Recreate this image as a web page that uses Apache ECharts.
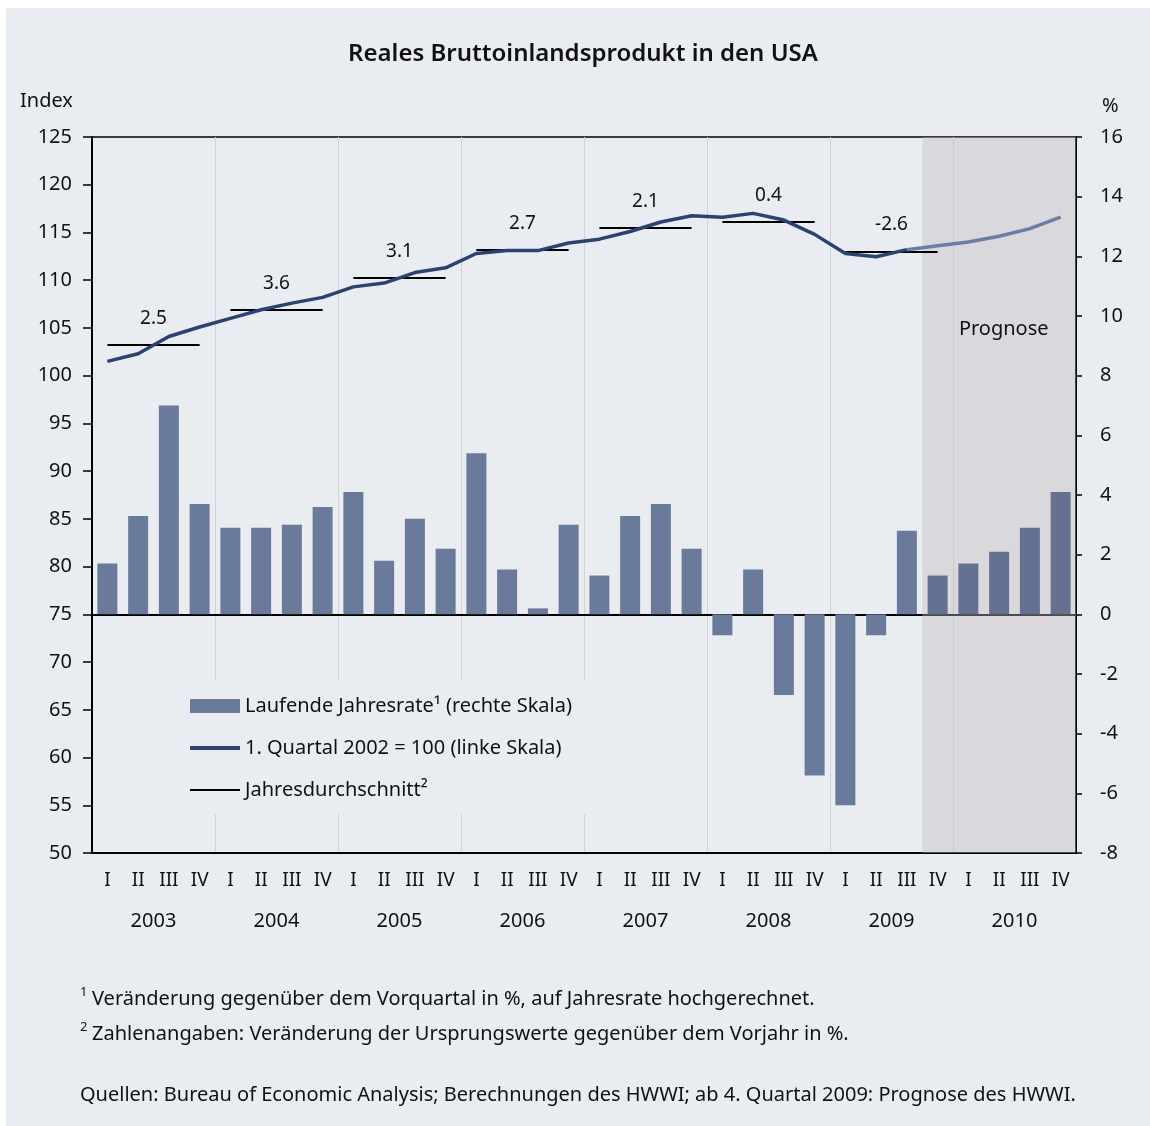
<!DOCTYPE html>
<html>
<head>
<meta charset="utf-8">
<script src="https://cdn.jsdelivr.net/npm/echarts@6/dist/echarts.min.js"></script>
<style>
  html, body { margin: 0; background: #fff; }
  #main { position: absolute; left: 6px; top: 8px; width: 1144px; height: 1118px; }
</style>
</head>
<body>
<div id="main"></div>
<script>
// Daten
var years = ['2003', '2004', '2005', '2006', '2007', '2008', '2009', '2010'];
var quarterNames = ['I', 'II', 'III', 'IV'];

// laufende Jahresrate in % (rechte Skala)
var rates = [
  1.7, 3.3, 7.0, 3.7,
  2.9, 2.9, 3.0, 3.6,
  4.1, 1.8, 3.2, 2.2,
  5.4, 1.5, 0.2, 3.0,
  1.3, 3.3, 3.7, 2.2,
  -0.7, 1.5, -2.7, -5.4,
  -6.4, -0.7, 2.8, 1.3,
  1.7, 2.1, 2.9, 4.1
];

// 1. Quartal 2002 = 100 (linke Skala)
var gdpIndex = [
  101.5, 102.3, 104.1, 105.1,
  106.0, 106.9, 107.6, 108.2,
  109.3, 109.7, 110.8, 111.3,
  112.8, 113.1, 113.1, 113.9,
  114.3, 115.1, 116.1, 116.75,
  116.6, 117.0, 116.3, 114.8,
  112.8, 112.45, 113.2, 113.6,
  114.0, 114.6, 115.4, 116.6
];

// Jahresdurchschnitt (Index) und Veränderung gegenüber Vorjahr
var yearAverage = [103.2, 106.9, 110.25, 113.15, 115.5, 116.1, 113.0, 115.2];
var yearGrowth = ['2.5', '3.6', '3.1', '2.7', '2.1', '0.4', '-2.6', '1.9'];

var forecastStart = 27; // ab 4. Quartal 2009

var quarters = [];
years.forEach(function (y) {
  quarterNames.forEach(function (q) { quarters.push(y + ' ' + q); });
});

var FONT = 'Noto Sans';
var TXT = '#111';
var LINE_DARK = '#2c4272';
var LINE_LIGHT = '#6a7ea5';

var barData = rates.map(function (v, i) {
  return i >= forecastStart ? { value: v, itemStyle: { color: '#647190' } } : v;
});
var actualLine = gdpIndex.map(function (v, i) { return i < forecastStart ? v : '-'; });
var forecastLine = gdpIndex.map(function (v, i) { return i >= forecastStart - 1 ? v : '-'; });

var avgLines = years.map(function (y, i) {
  var start = { coord: [i * 4, yearAverage[i]], name: yearGrowth[i] };
  if (i === years.length - 1) start.lineStyle = { opacity: 0 };
  return [start, { coord: [i * 4 + 3, yearAverage[i]] }];
});

var myChart = echarts.init(document.getElementById('main'));

var option = {
  backgroundColor: '#e9ecf1',
  animation: false,
  textStyle: { fontFamily: FONT, color: TXT },
  title: {
    text: 'Reales Bruttoinlandsprodukt in den USA',
    left: 577,
    top: 34,
    textAlign: 'center',
    padding: 0,
    textStyle: { fontFamily: FONT, fontSize: 24, fontWeight: 600, color: TXT }
  },
  legend: {
    orient: 'vertical',
    left: 156,
    top: 672,
    padding: [16, 16, 14, 26],
    backgroundColor: '#e9ecf1',
    itemWidth: 50,
    itemHeight: 14,
    itemGap: 22,
    z: 10,
    textStyle: { fontFamily: FONT, fontSize: 20, color: TXT, lineHeight: 20 },
    data: [
      { name: 'Laufende Jahresrate¹ (rechte Skala)', icon: 'rect' },
      { name: '1. Quartal 2002 = 100 (linke Skala)', itemStyle: { opacity: 0 }, lineStyle: { width: 4, color: LINE_DARK } },
      { name: 'Jahresdurchschnitt²', itemStyle: { opacity: 0 }, lineStyle: { width: 2, color: '#000' } }
    ]
  },
  grid: {
    left: 86, right: 74, top: 129, bottom: 273,
    show: true,
    borderColor: '#000',
    borderWidth: 1.5,
    backgroundColor: 'transparent',
    outerBoundsMode: 'none'
  },
  xAxis: [
    {
      type: 'category',
      data: quarters,
      position: 'bottom',
      axisLine: { onZero: false, lineStyle: { color: '#000', width: 2 } },
      axisTick: { interval: 0, length: 41, lineStyle: { color: '#000', width: 2 } },
      axisLabel: {
        interval: 0, margin: 18, fontSize: 19, color: TXT, fontFamily: FONT,
        formatter: function (v) { return v.split(' ')[1]; }
      },
      splitLine: { show: false }
    },
    {
      type: 'category',
      data: years,
      position: 'bottom',
      axisLine: { show: false, onZero: false },
      axisTick: { interval: 0, length: 82, lineStyle: { color: '#000', width: 2 } },
      axisLabel: { interval: 0, margin: 58, fontSize: 20, color: TXT, fontFamily: FONT },
      splitLine: { show: false }
    },
    {
      type: 'category',
      data: years,
      position: 'bottom',
      axisLine: { onZero: true, onZeroAxisIndex: 1, lineStyle: { color: '#000', width: 2 } },
      axisTick: { interval: 0, length: 5, lineStyle: { color: '#000', width: 2 } },
      axisLabel: { show: false },
      splitLine: { show: true, interval: 0, lineStyle: { color: '#cfd3d9', width: 1 } }
    },
    { type: 'value', min: 0, max: quarters.length, show: false }
  ],
  yAxis: [
    {
      type: 'value',
      position: 'left',
      min: 50, max: 125, interval: 5,
      axisLine: { show: true, onZero: false, lineStyle: { color: '#000', width: 2 } },
      axisTick: { show: true, length: 9, lineStyle: { color: '#000', width: 1.5 } },
      axisLabel: { margin: 20, fontSize: 20, color: TXT, fontFamily: FONT },
      splitLine: { show: false }
    },
    {
      type: 'value',
      position: 'right',
      min: -8, max: 16, interval: 2,
      axisLine: { show: true, onZero: false, lineStyle: { color: '#000', width: 2 } },
      axisTick: { show: true, length: 6, lineStyle: { color: '#000', width: 1.5 } },
      axisLabel: { margin: 24, fontSize: 20, color: TXT, fontFamily: FONT },
      splitLine: { show: false }
    }
  ],
  series: [
    {
      // Prognosezeitraum
      name: 'Prognose',
      type: 'line',
      xAxisIndex: 3,
      yAxisIndex: 0,
      data: [],
      z: 1,
      silent: true,
      markArea: {
        silent: true,
        z: 1,
        itemStyle: { color: 'rgba(193,191,193,0.4)' },
        label: {
          show: true, position: ['53%', 192], align: 'center', verticalAlign: 'middle',
          fontFamily: FONT, fontSize: 20, color: TXT
        },
        data: [[{ name: 'Prognose', xAxis: forecastStart }, { xAxis: quarters.length }]]
      }
    },
    {
      name: 'Laufende Jahresrate¹ (rechte Skala)',
      type: 'bar',
      xAxisIndex: 0,
      yAxisIndex: 1,
      barWidth: '65%',
      itemStyle: { color: '#6a7a9b' },
      z: 3,
      data: barData
    },
    {
      name: '1. Quartal 2002 = 100 (linke Skala)',
      type: 'line',
      xAxisIndex: 0,
      yAxisIndex: 0,
      symbol: 'none',
      lineStyle: { color: LINE_DARK, width: 3.5 },
      itemStyle: { color: LINE_DARK },
      z: 5,
      data: actualLine
    },
    {
      name: 'Prognose Index',
      type: 'line',
      xAxisIndex: 0,
      yAxisIndex: 0,
      symbol: 'none',
      lineStyle: { color: LINE_LIGHT, width: 3.5 },
      itemStyle: { color: LINE_LIGHT },
      z: 5,
      data: forecastLine
    },
    {
      name: 'Jahresdurchschnitt²',
      type: 'line',
      xAxisIndex: 0,
      yAxisIndex: 0,
      symbol: 'none',
      lineStyle: { color: '#000', width: 2 },
      itemStyle: { color: '#000' },
      z: 4,
      data: [],
      markLine: {
        silent: true,
        symbol: 'none',
        lineStyle: { color: '#000', width: 2, type: 'solid' },
        label: {
          show: true, position: 'middle', distance: 17,
          fontFamily: FONT, fontSize: 19, color: TXT,
          formatter: function (p) { return p.name; }
        },
        data: avgLines
      }
    }
  ],
  graphic: [
    { type: 'text', left: 14, top: 83, style: { text: 'Index', font: '20px "Noto Sans"', fill: TXT } },
    { type: 'text', left: 1096, top: 88, style: { text: '%', font: '20px "Noto Sans"', fill: TXT } },
    { type: 'text', left: 74, top: 978, style: { text: '1', font: '13px "Noto Sans"', fill: TXT } },
    { type: 'text', left: 86, top: 981, style: { text: 'Veränderung gegenüber dem Vorquartal in %, auf Jahresrate hochgerechnet.', font: '20px "Noto Sans"', fill: TXT } },
    { type: 'text', left: 74, top: 1013, style: { text: '2', font: '13px "Noto Sans"', fill: TXT } },
    { type: 'text', left: 86, top: 1016, style: { text: 'Zahlenangaben: Veränderung der Ursprungswerte gegenüber dem Vorjahr in %.', font: '20px "Noto Sans"', fill: TXT } },
    { type: 'text', left: 74, top: 1077, style: { text: 'Quellen: Bureau of Economic Analysis; Berechnungen des HWWI; ab 4. Quartal 2009: Prognose des HWWI.', font: '20px "Noto Sans"', fill: TXT } }
  ]
};

myChart.setOption(option);
</script>
</body>
</html>
